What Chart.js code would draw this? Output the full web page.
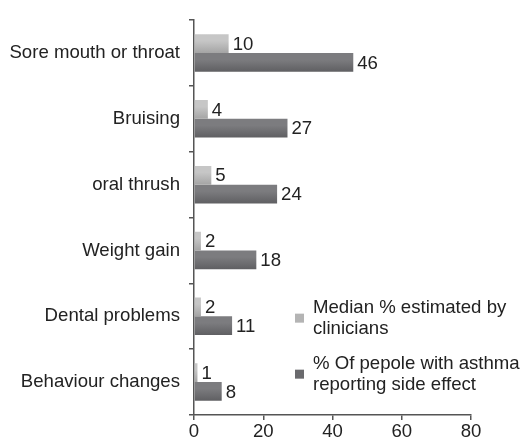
<!DOCTYPE html>
<html>
<head>
<meta charset="utf-8">
<script src="https://cdn.jsdelivr.net/npm/chart.js@4.4.0/dist/chart.umd.min.js"></script>
<style>
html,body{margin:0;padding:0;background:#fff;}
#wrap{width:520px;height:445px;position:relative;}
</style>
</head>
<body>
<div id="wrap"><canvas id="c" width="520" height="445"></canvas></div>
<script>
const categories = ["Sore mouth or throat", "Bruising", "oral thrush", "Weight gain", "Dental problems", "Behaviour changes"];
const clinicianValues = [10, 4, 5, 2, 2, 1];
const patientValues = [46, 27, 24, 18, 11, 8];
const seriesNames = ["Median % estimated by clinicians", "% Of pepole with asthma reporting side effect"];
const legendLines = [["Median % estimated by", "clinicians"], ["% Of pepole with asthma", "reporting side effect"]];
const xTicks = [0, 20, 40, 60, 80];

const FONT = "'Liberation Sans', Arial, sans-serif";
const FSIZE = 18.6;
const CAT_PCT = 0.57;

function barGradient(top, bottom) {
  return function (context) {
    const chart = context.chart;
    const ys = chart.scales.y;
    if (!ys || !chart.chartArea || context.type !== 'data') return bottom;
    const center = ys.getPixelForValue(context.dataIndex);
    const cat = (ys.bottom - ys.top) / categories.length;
    const bh = cat * CAT_PCT / 2;
    const y0 = context.datasetIndex === 0 ? center - bh : center;
    const g = chart.ctx.createLinearGradient(0, y0, 0, y0 + bh);
    g.addColorStop(0, top);
    g.addColorStop(0.35, top);
    g.addColorStop(1, bottom);
    return g;
  };
}

const valueLabels = {
  id: 'valueLabels',
  afterDatasetsDraw(chart) {
    const c = chart.ctx;
    c.save();
    c.font = FSIZE + 'px ' + FONT;
    c.fillStyle = '#222';
    c.textAlign = 'left';
    c.textBaseline = 'middle';
    chart.data.datasets.forEach((ds, di) => {
      chart.getDatasetMeta(di).data.forEach((el, i) => {
        c.fillText(String(ds.data[i]), el.x + 4, el.y + 1);
      });
    });
    c.restore();
  }
};

const sideLegend = {
  id: 'sideLegend',
  afterDraw(chart) {
    const c = chart.ctx;
    const a = chart.chartArea;
    const x = a.left + 101;
    const centers = [a.top + 298, a.top + 354];
    c.save();
    c.font = FSIZE + 'px ' + FONT;
    c.textAlign = 'left';
    c.textBaseline = 'middle';
    chart.data.datasets.forEach((ds, di) => {
      const cy = centers[di];
      c.fillStyle = ds.legendColor;
      c.fillRect(x, cy - 4.5, 9, 9);
      c.fillStyle = '#222';
      const lines = legendLines[di];
      c.fillText(lines[0], x + 18, cy - 10.5);
      c.fillText(lines[1], x + 18, cy + 10.5);
    });
    c.restore();
  }
};

new Chart(document.getElementById('c'), {
  type: 'bar',
  data: {
    labels: categories,
    datasets: [
      {
        label: seriesNames[0],
        data: clinicianValues,
        backgroundColor: barGradient('#c6c6c6', '#a4a4a4'),
        legendColor: '#b4b4b4',
        borderWidth: 0,
        categoryPercentage: CAT_PCT,
        barPercentage: 1.0
      },
      {
        label: seriesNames[1],
        data: patientValues,
        backgroundColor: barGradient('#7c7c7f', '#5f5f62'),
        legendColor: '#6a6a6d',
        borderWidth: 0,
        categoryPercentage: CAT_PCT,
        barPercentage: 1.0
      }
    ]
  },
  options: {
    indexAxis: 'y',
    responsive: false,
    animation: false,
    events: [],
    layout: { padding: { top: 14, right: 49, bottom: 0, left: 0 } },
    plugins: {
      legend: { display: false },
      tooltip: { enabled: false },
      title: { display: false }
    },
    scales: {
      x: {
        min: 0,
        max: 80,
        afterFit(s) { s.height = 30; },
        afterBuildTicks(s) { s.ticks = xTicks.map(v => ({ value: v })); },
        border: { display: true, color: '#555', width: 1.5 },
        grid: { display: true, drawOnChartArea: false, drawTicks: true, tickLength: 5, color: '#555', lineWidth: 1.5 },
        ticks: { color: '#222', font: { family: FONT, size: FSIZE }, padding: 1, maxRotation: 0 }
      },
      y: {
        afterFit(s) { s.width = 194; },
        border: { display: true, color: '#555', width: 1.5 },
        grid: { display: true, offset: true, drawOnChartArea: false, drawTicks: true, tickLength: 5, color: '#555', lineWidth: 1.5 },
        ticks: { color: '#222', font: { family: FONT, size: FSIZE }, padding: 9 }
      }
    }
  },
  plugins: [valueLabels, sideLegend]
});
</script>
</body>
</html>
